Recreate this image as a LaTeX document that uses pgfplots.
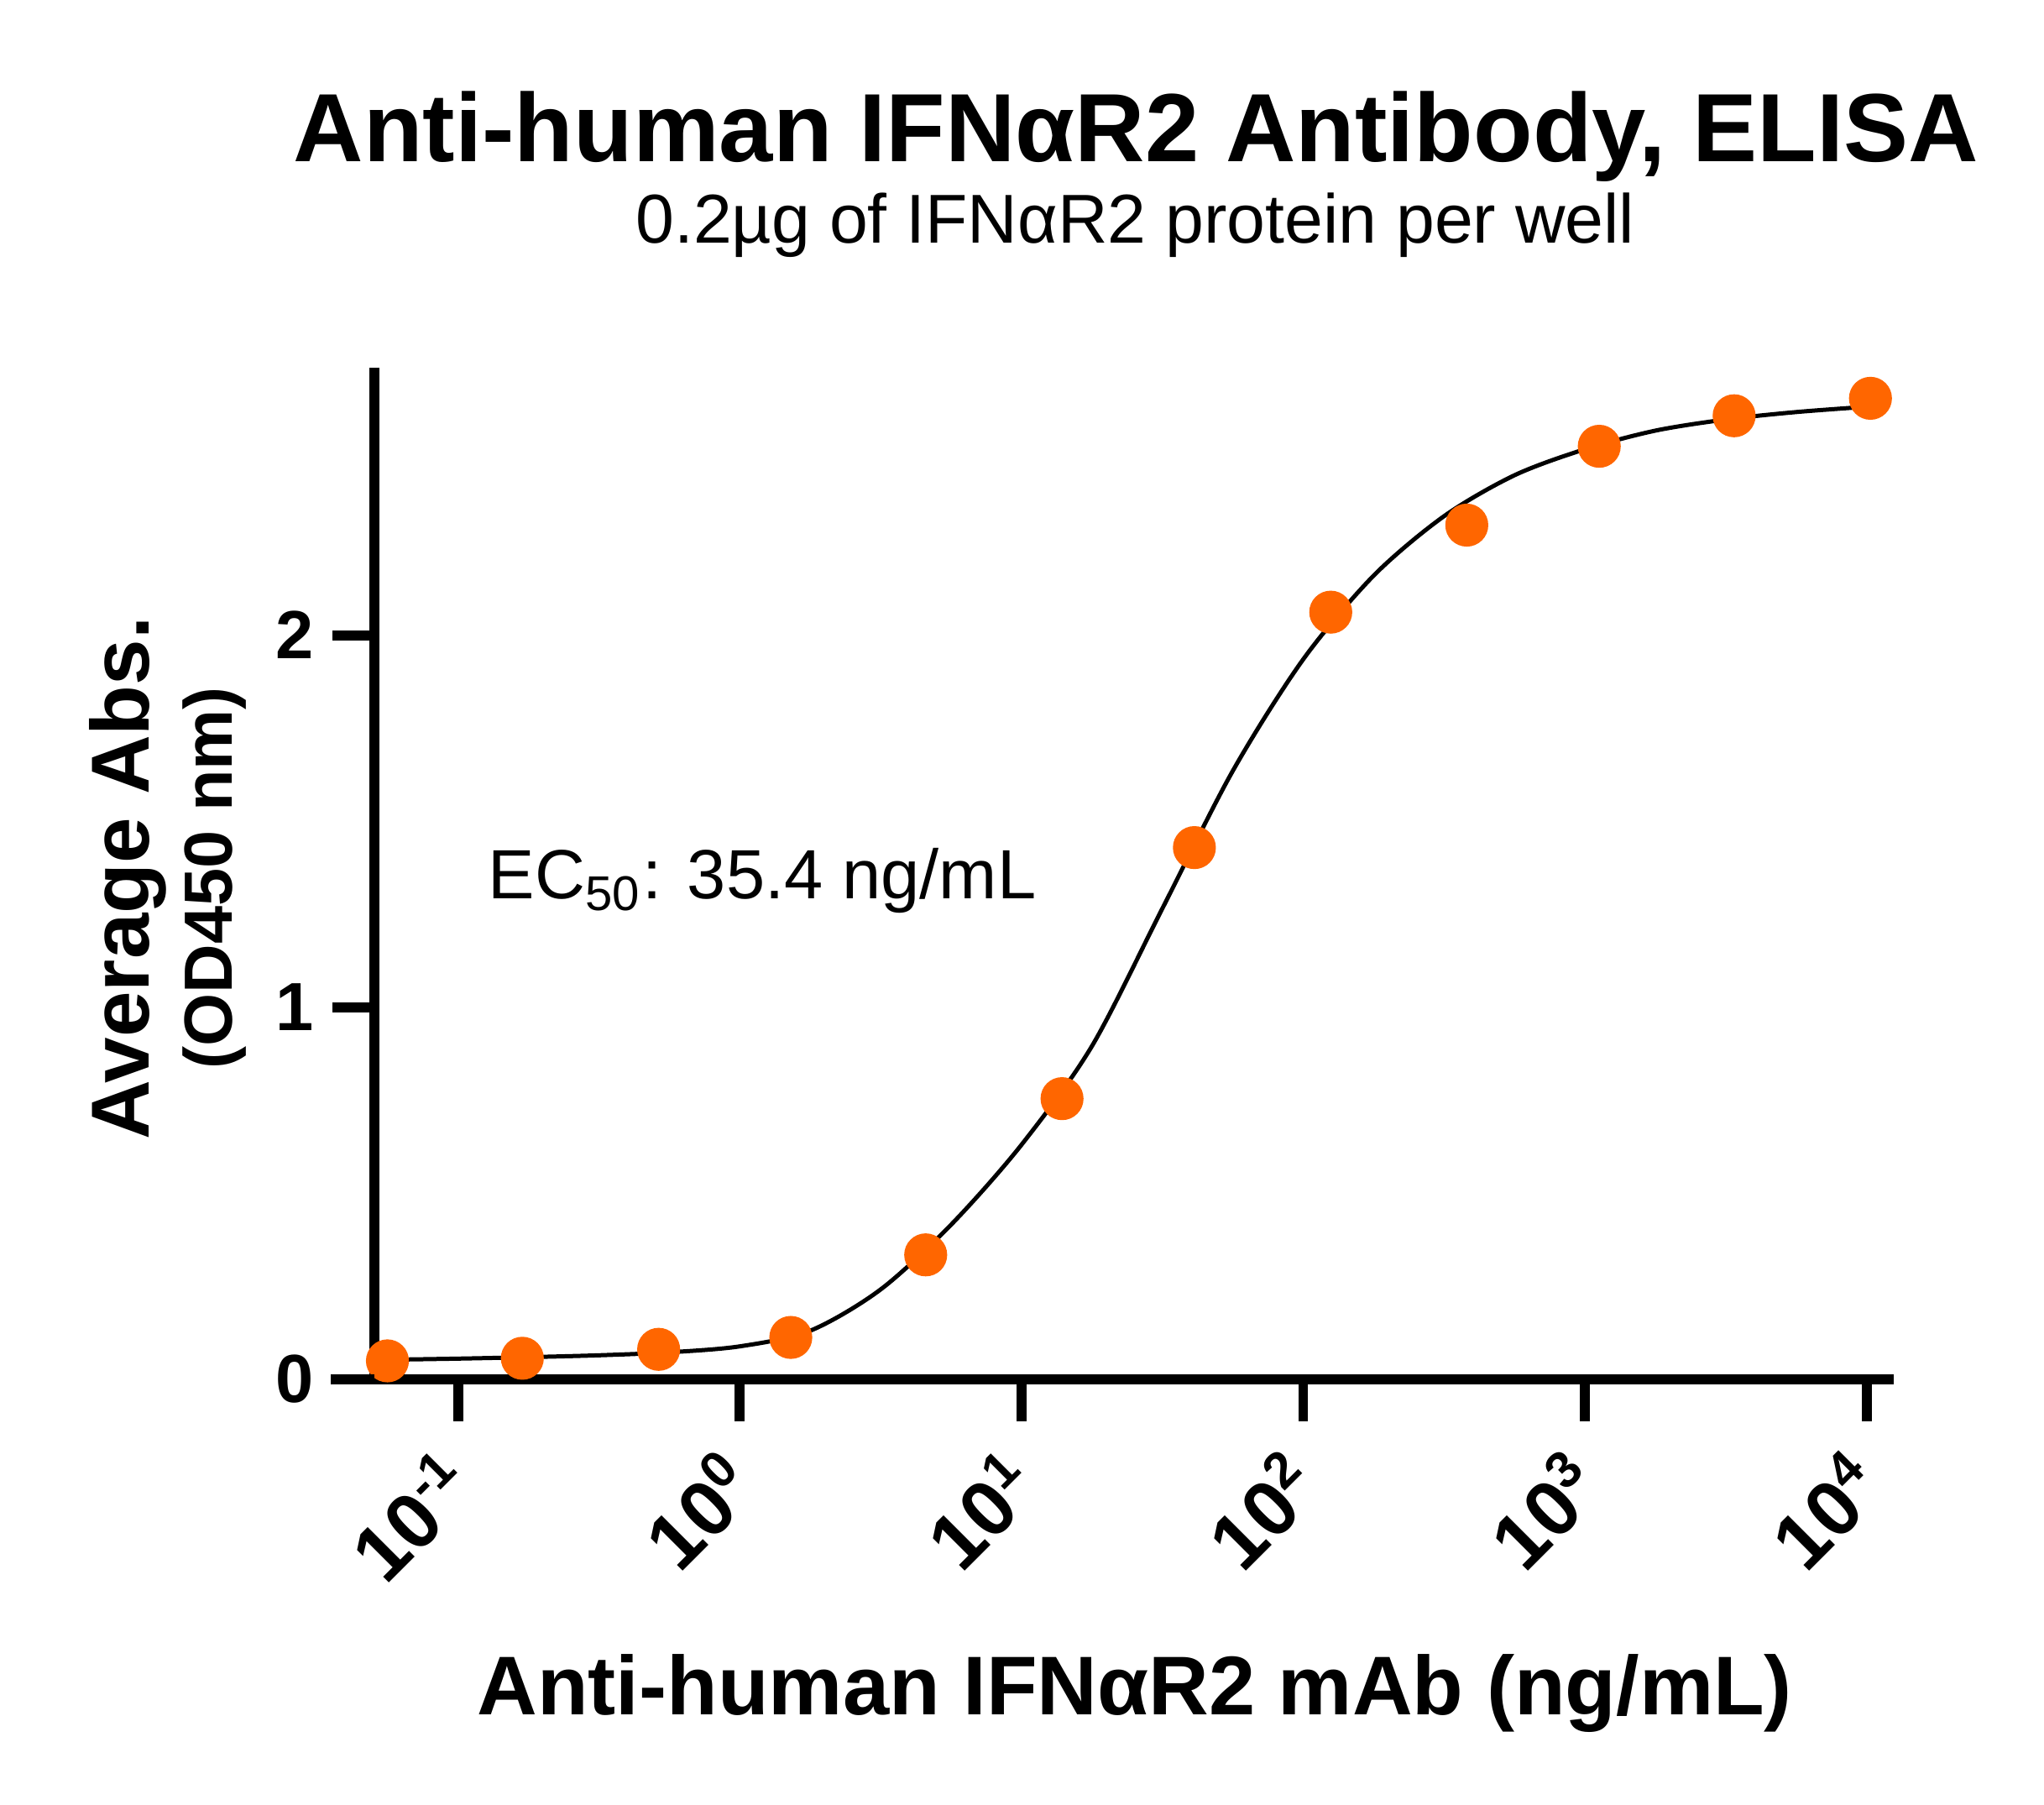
\documentclass[border=0pt]{standalone}
\usepackage{fontspec}
\setmainfont{Liberation Sans}
\usepackage{pgfplots}
\pgfplotsset{compat=1.18}
\definecolor{dotorange}{RGB}{255,102,0}
\newcommand{\sx}[1]{10\raisebox{5.6pt}{\fontsize{9.8}{10}\selectfont\bfseries #1}}
\begin{document}
\begin{tikzpicture}
\useasboundingbox (-71.4pt,-81.1pt) rectangle (318.6pt,263.1pt);
\begin{axis}[
  at={(0pt,0pt)}, anchor=south west,
  scale only axis, width=290pt, height=193pt,
  xmode=log, xmin=0.05035, xmax=12531,
  ymin=0, ymax=2.72,
  axis lines*=left,
  axis line style={line width=1.9pt, black},
  clip=false,
  xminorticks=false, yminorticks=false,
  tick align=outside,
  major tick length=8pt,
  tick style={line width=1.9pt, black},
  xtick={0.1,1,10,100,1000,10000},
  xticklabels={\sx{-1},\sx{0},\sx{1},\sx{2},\sx{3},\sx{4}},
  xticklabel style={xshift=4.3pt, yshift=-13.5pt, rotate=45, anchor=base east, inner sep=0pt, font=\fontsize{15}{15}\selectfont\bfseries},
  ytick={0,1,2},
  yticklabels={0,1,2},
  yticklabel style={font=\fontsize{13}{13}\selectfont\bfseries},
]
\addplot[black, line width=0.8pt, smooth, no marks] coordinates {
(0.05623,0.052) (0.1,0.055) (0.1778,0.059) (0.3162,0.064) (0.5623,0.072)
(1,0.088) (1.778,0.130) (3.162,0.241) (5.623,0.415) (10,0.630)
(17.78,0.895) (31.62,1.265) (56.23,1.635) (100,1.935) (177.8,2.160)
(316.2,2.320) (562.3,2.430) (1000,2.500) (1778,2.550) (3162,2.580)
(5623,2.600) (10327,2.615)
};
\addplot[only marks, mark=*, mark size=3.9pt, color=dotorange, mark options={fill=dotorange, draw=none}] coordinates {
(0.0561,0.049) (0.169,0.056) (0.515,0.080) (1.517,0.112) (4.57,0.334) (13.93,0.754)
(41.1,1.429) (125.3,2.062) (381,2.296) (1125,2.508) (3388,2.590) (10327,2.637)
};
\end{axis}
\draw[line width=1.9pt, black] (-8.25pt,0pt) -- (0pt,0pt);
\node[anchor=base, inner sep=0pt, font=\fontsize{18.5}{22}\selectfont\bfseries] at (145.35pt,232.2pt) {Anti-human IFNαR2 Antibody, ELISA};
\node[anchor=base, inner sep=0pt, font=\fontsize{13.2}{15}\selectfont] at (145.2pt,216.7pt) {0.2µg of IFNαR2 protein per well};
\node[anchor=base, inner sep=0pt, font=\fontsize{15.9}{18}\selectfont\bfseries] at (145.1pt,-64.1pt) {Anti-human IFNαR2 mAb (ng/mL)};
\node[anchor=base, rotate=90, inner sep=0pt, font=\fontsize{15.7}{18}\selectfont\bfseries] at (-42.9pt,95.6pt) {Average Abs.};
\node[anchor=base, rotate=90, inner sep=0pt, font=\fontsize{13}{15}\selectfont\bfseries] at (-27.15pt,95.6pt) {(OD450 nm)};
\node[anchor=base west, inner sep=0pt, font=\fontsize{13.3}{15}\selectfont] at (21.6pt,91.6pt) {EC\textsubscript{50}: 35.4 ng/mL};
\end{tikzpicture}
\end{document}
